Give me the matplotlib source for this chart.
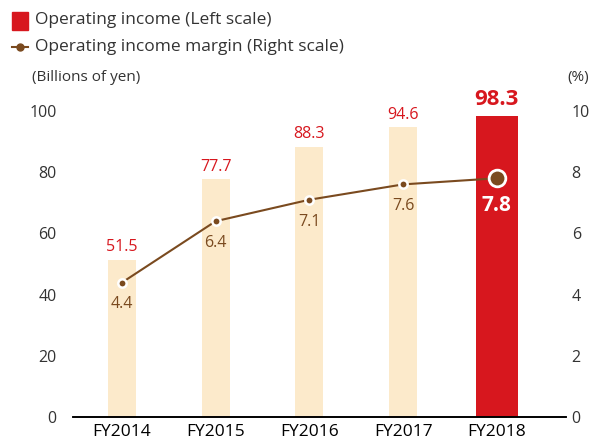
import matplotlib.pyplot as plt

years = ['FY2014', 'FY2015', 'FY2016', 'FY2017', 'FY2018']
income = [51.5, 77.7, 88.3, 94.6, 98.3]
margin = [4.4, 6.4, 7.1, 7.6, 7.8]

red = '#D7171E'
pale = '#FCEACB'
brown = '#7A4A1F'
grey = '#333333'

plt.rcParams['font.family'] = ['Open Sans', 'DejaVu Sans']

fig = plt.figure(figsize=[5.91, 4.45], dpi=100)
ax = fig.add_axes([0.124, 0.062, 0.834, 0.689])
ax2 = ax.twinx()

x = list(range(len(years)))
colors = [pale] * 4 + [red]
widths = [0.3] * 4 + [0.45]
ax.bar(x, income, width=widths, color=colors, zorder=1)

for i, v in enumerate(income):
    if i == len(income) - 1:
        ax.text(i, v + 2.0, f'{v}', ha='center', va='bottom', color=red,
                fontsize=16, fontweight='bold')
    else:
        ax.text(i, v + 1.5, f'{v}', ha='center', va='bottom', color=red, fontsize=11.5)

ax.set_xlim(-0.52, 4.74)
ax.set_ylim(0, 100)
ax2.set_ylim(0, 10)
ax.set_yticks(range(0, 101, 20))
ax2.set_yticks(range(0, 11, 2))

ax2.plot(x, margin, color=brown, lw=1.5, zorder=3)
ax2.plot(x[:-1], margin[:-1], 'o', color=brown, ms=6, mec='white', mew=1.8, zorder=4)
ax2.plot(x[-1], margin[-1], 'o', color=brown, ms=12, mec='white', mew=2, zorder=4)
for i, v in enumerate(margin):
    if i == len(margin) - 1:
        ax2.text(i, v - 0.55, f'{v}', ha='center', va='top', color='white',
                 fontsize=15, fontweight='bold')
    else:
        ax2.text(i, v - 0.45, f'{v}', ha='center', va='top', color=brown, fontsize=11.5)

for a in (ax, ax2):
    for s in ['top', 'right', 'left']:
        a.spines[s].set_visible(False)
    a.spines['bottom'].set_color('black')
    a.spines['bottom'].set_linewidth(1.2)
    a.tick_params(length=0, labelsize=11.5, colors=grey, pad=12)
ax.tick_params(axis='x', colors='black', labelsize=12.5, pad=5)
ax.set_xticks(x)
ax.set_xticklabels(years)
ax2.tick_params(axis='y', pad=4)

fig.text(0.054, 0.825, '(Billions of yen)', fontsize=11, color=grey, va='center')
fig.text(0.996, 0.825, '(%)', fontsize=11, color=grey, va='center', ha='right')

# legend
fig.patches.append(plt.Rectangle((0.02, 0.933), 0.028, 0.040, color=red,
                                 transform=fig.transFigure, figure=fig))
fig.text(0.06, 0.954, 'Operating income (Left scale)', fontsize=12.5, color=grey, va='center')
fig.lines.append(plt.Line2D([0.02, 0.048], [0.895, 0.895], color=brown, lw=1.5,
                            transform=fig.transFigure))
fig.lines.append(plt.Line2D([0.034], [0.895], color=brown, marker='o', ms=5,
                            transform=fig.transFigure))
fig.text(0.06, 0.895, 'Operating income margin (Right scale)', fontsize=12.5, color=grey,
         va='center')

plt.savefig('out.png', dpi=100)
